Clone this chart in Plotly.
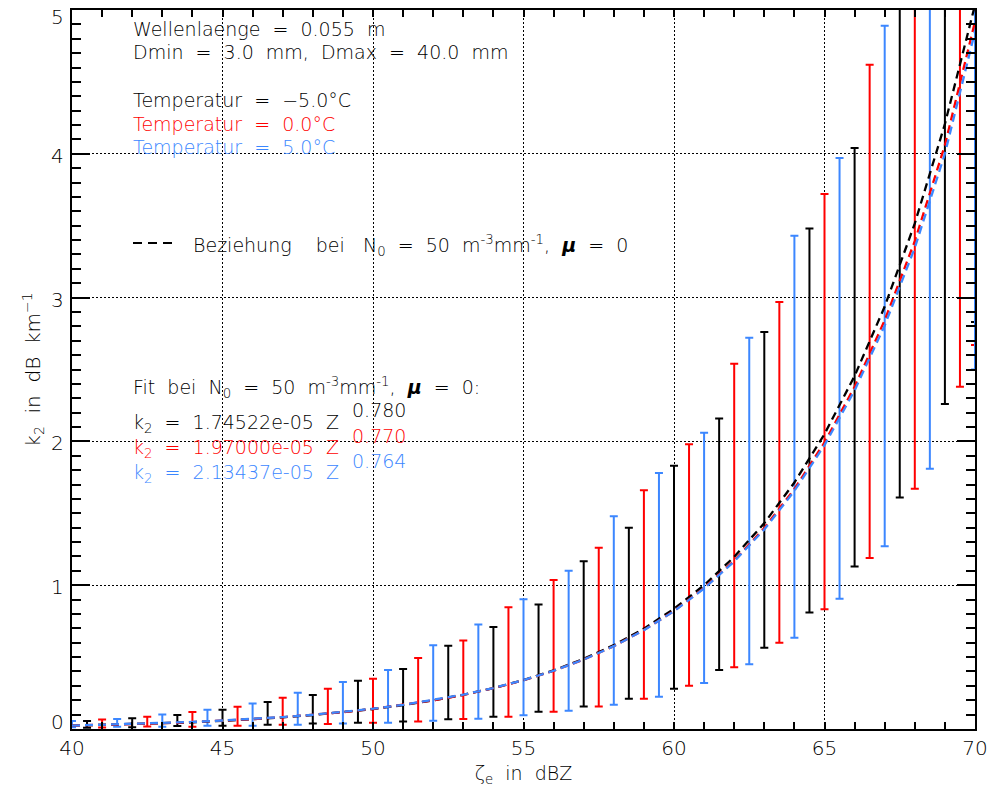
import plotly.graph_objects as go

# ---------------- data ----------------
# relation curves k2(Ze) for N0 = 50 m^-3 mm^-1, mu = 0 (1 dBZ steps)
curve_dbz = [40, 41, 42, 43, 44, 45, 46, 47, 48, 49, 50, 51, 52, 53, 54, 55,
             56, 57, 58, 59, 60, 61, 62, 63, 64, 65, 66, 67, 68, 69, 70]
curve_k2_m5 = [0.023, 0.028, 0.033, 0.039, 0.047, 0.057, 0.068, 0.081, 0.097, 0.116,
               0.139, 0.166, 0.199, 0.238, 0.284, 0.340, 0.407, 0.488, 0.583, 0.698,
               0.836, 1.000, 1.197, 1.432, 1.714, 2.051, 2.455, 2.938, 3.516, 4.207, 5.035]
curve_k2_0 = [0.024, 0.028, 0.034, 0.040, 0.048, 0.057, 0.069, 0.082, 0.098, 0.117,
              0.140, 0.167, 0.199, 0.237, 0.284, 0.339, 0.404, 0.483, 0.576, 0.688,
              0.821, 0.981, 1.171, 1.398, 1.669, 1.993, 2.380, 2.842, 3.393, 4.060, 4.920]
curve_k2_p5 = [0.024, 0.029, 0.035, 0.041, 0.049, 0.059, 0.070, 0.083, 0.099, 0.118,
               0.141, 0.168, 0.201, 0.239, 0.285, 0.340, 0.405, 0.483, 0.576, 0.687,
               0.819, 0.977, 1.165, 1.388, 1.656, 1.974, 2.354, 2.806, 3.346, 4.000, 4.850]

# error bars (range of k2) per temperature
bar_x_m5 = [40.5, 42, 43.5, 45, 46.5, 48, 49.5, 51, 52.5, 54, 55.5, 57, 58.5, 60,
            61.5, 63, 64.5, 66, 67.5, 69, 70]
bar_lo_m5 = [0.009, 0.012, 0.021, 0.023, 0.030, 0.039, 0.044, 0.053, 0.067, 0.086,
             0.120, 0.157, 0.210, 0.280, 0.410, 0.565, 0.810, 1.130, 1.610, 2.260, 2.830]
bar_hi_m5 = [0.055, 0.074, 0.097, 0.134, 0.188, 0.236, 0.335, 0.417, 0.579, 0.710,
             0.866, 1.167, 1.400, 1.830, 2.160, 2.760, 3.480, 4.040, 5.600, 6.200, 6.800]

bar_x_0 = [41, 42.5, 44, 45.5, 47, 48.5, 50, 51.5, 53, 54.5, 56, 57.5, 59, 60.5,
           62, 63.5, 65, 66.5, 68, 69.5, 70]
bar_lo_0 = [0.010, 0.018, 0.016, 0.023, 0.030, 0.035, 0.044, 0.053, 0.069, 0.086,
            0.120, 0.157, 0.210, 0.300, 0.430, 0.600, 0.833, 1.190, 1.670, 2.380, 2.670]
bar_hi_0 = [0.066, 0.086, 0.118, 0.155, 0.218, 0.280, 0.350, 0.493, 0.616, 0.847,
            1.037, 1.260, 1.660, 1.980, 2.540, 2.970, 3.720, 4.620, 5.500, 6.100, 6.600]

bar_x_p5 = [40, 41.5, 43, 44.5, 46, 47.5, 49, 50.5, 52, 53.5, 55, 56.5, 58, 59.5,
            61, 62.5, 64, 65.5, 67, 68.5, 70]
bar_lo_p5 = [0.012, 0.016, 0.016, 0.023, 0.023, 0.030, 0.039, 0.044, 0.058, 0.072,
             0.095, 0.127, 0.169, 0.224, 0.320, 0.450, 0.634, 0.905, 1.270, 1.810, 2.500]
bar_hi_p5 = [0.055, 0.069, 0.100, 0.134, 0.178, 0.252, 0.326, 0.410, 0.583, 0.727,
             0.903, 1.100, 1.480, 1.780, 2.060, 2.720, 3.430, 3.970, 4.890, 5.400, 6.000]

x_ticks = [40, 45, 50, 55, 60, 65, 70]
y_ticks = [0, 1, 2, 3, 4, 5]

BLACK = "#000000"
RED = "#FF0000"
BLUE = "#3C87FF"
FONT = "DejaVu Sans"
WEIGHT = 200

fig = go.Figure()

# error bars
for bx, lo, hi, col in [(bar_x_m5, bar_lo_m5, bar_hi_m5, BLACK),
                        (bar_x_0, bar_lo_0, bar_hi_0, RED),
                        (bar_x_p5, bar_lo_p5, bar_hi_p5, BLUE)]:
    fig.add_trace(go.Scatter(
        x=bx, y=lo, mode="markers",
        marker=dict(size=1, opacity=0, color=col),
        error_y=dict(type="data", symmetric=False,
                     array=[h - l for h, l in zip(hi, lo)],
                     arrayminus=[0] * len(lo),
                     color=col, thickness=2, width=4),
        showlegend=False, hoverinfo="skip"))

# relation curves
for yk, col in [(curve_k2_m5, BLACK), (curve_k2_0, RED), (curve_k2_p5, BLUE)]:
    fig.add_trace(go.Scatter(
        x=curve_dbz, y=yk, mode="lines",
        line=dict(color=col, width=2.3, dash="8px,5px"),
        showlegend=False, hoverinfo="skip"))

# ---------------- annotations ----------------
def px_x(px):
    return (px - 72) / 903.0

def px_y(py):
    return (729 - py) / 719.0

TXT = 19
SP = " \u00a0"   # wide (Hershey-like) word spacing
NB = "\u00a0"

def wide(s):
    return s.replace(" ", SP)

def font(color=BLACK, size=TXT):
    return dict(family=FONT, size=size, color=color, weight=WEIGHT)

def note(text, px, py, color=BLACK, size=TXT):
    fig.add_annotation(text=text, xref="paper", yref="paper",
                       x=px_x(px), y=px_y(py), xanchor="left", yanchor="middle",
                       showarrow=False, font=font(color, size))

note(wide("Wellenlaenge = 0.055 m"), 131, 29)
note(wide("Dmin = 3.0 mm, Dmax = 40.0 mm"), 131, 52)
note(wide("Temperatur = \u22125.0\u00b0C"), 131, 100, BLACK)
note(wide("Temperatur = 0.0\u00b0C"), 131, 124, RED)
note(wide("Temperatur = 5.0\u00b0C"), 131, 147, BLUE)

fig.add_shape(type="line", xref="paper", yref="paper",
              x0=px_x(133), x1=px_x(172), y0=px_y(243), y1=px_y(243),
              line=dict(color=BLACK, width=2, dash="9px,6px"))
note("Beziehung" + SP + NB + NB + "bei" + SP + NB + "N" + "<sub>0</sub>" + wide(" = 50 m")
     + "<sup>-3</sup>mm<sup>-1</sup>," + SP + "<b><i>\u03bc</i></b>" + wide(" = 0"), 191, 245)

note(wide("Fit bei N") + "<sub>0</sub>" + wide(" = 50 m") + "<sup>-3</sup>mm<sup>-1</sup>,"
     + SP + "<b><i>\u03bc</i></b>" + wide(" = 0:"), 131, 388)
note("k<sub>2</sub>" + wide(" = 1.74522e-05 Z"), 131, 423, BLACK)
note("0.780", 350, 410, BLACK)
note("k<sub>2</sub>" + wide(" = 1.97000e-05 Z"), 131, 448, RED)
note("0.770", 350, 436, RED)
note("k<sub>2</sub>" + wide(" = 2.13437e-05 Z"), 131, 473, BLUE)
note("0.764", 350, 461, BLUE)

# y tick labels (end labels pulled inwards as in the original)
for v in y_ticks:
    shift = 7 if v == y_ticks[0] else (-7 if v == y_ticks[-1] else -2)
    fig.add_annotation(text=str(v), xref="paper", yref="y", x=px_x(66), y=v,
                       xanchor="right", yanchor="middle", yshift=shift,
                       showarrow=False, font=font(BLACK, 20))

axis_common = dict(
    showline=True, linecolor=BLACK, linewidth=2, mirror="allticks",
    ticks="inside", tickcolor=BLACK, tickwidth=1.5,
    showgrid=True, gridcolor=BLACK, gridwidth=1, griddash="2px,2px",
    zeroline=False, automargin=False,
    tickfont=font(BLACK, 20),
)

fig.update_layout(
    width=992, height=794,
    margin=dict(l=72, r=17, t=10, b=65),
    paper_bgcolor="white", plot_bgcolor="white",
    font=dict(family=FONT, color=BLACK),
    xaxis=dict(range=[40, 70], tickmode="array", tickvals=x_ticks,
               ticktext=[str(v) for v in x_ticks], ticklen=7,
               minor=dict(dtick=1, tick0=40, ticks="inside", ticklen=7,
                          tickcolor=BLACK, tickwidth=1.5, showgrid=False),
               title=dict(text="\u03b6<sub>e</sub>" + wide(" in dBZ"),
                          font=font(BLACK, 19), standoff=8),
               **axis_common),
    yaxis=dict(range=[0, 5], tickmode="array", tickvals=y_ticks,
               showticklabels=False, ticklen=18,
               minor=dict(dtick=0.1, tick0=0, ticks="inside", ticklen=9,
                          tickcolor=BLACK, tickwidth=1.5, showgrid=False),
               title=dict(text="k<sub>2</sub>" + wide(" in dB km") + "<sup>\u22121</sup>",
                          font=font(BLACK, 20), standoff=24),
               **axis_common),
)

fig.write_html("out.html")
